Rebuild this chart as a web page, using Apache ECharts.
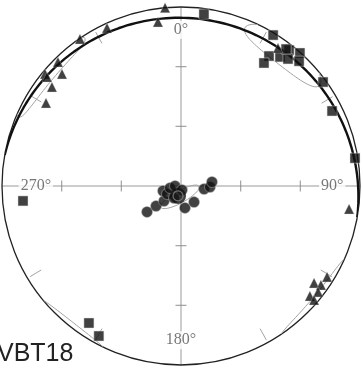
<!DOCTYPE html>
<html>
<head>
<meta charset="utf-8">
<script src="https://cdn.jsdelivr.net/npm/echarts@6/dist/echarts.min.js"></script>
<style>
html, body { margin: 0; padding: 0; background: #fff; }
#chart { width: 363px; height: 374px; }
</style>
</head>
<body>
<div id="chart"></div>
<script>
// Lower-hemisphere net, site VBT18. Lines are trend / plunge in degrees.
const squareTrend   = [7.6, 31.4, 34.1, 34.0, 37.5, 38.5, 40.1, 41.8, 43.4, 37.5, 53.8, 63.6, 80.9, 264.6, 213.9, 208.7];
const squarePlunge  = [2.8, 1.1, 11.1, 15.4, 8.2, 2.7, 6.5, 0.3, 3.6, 3.2, 1.5, 5.2, 1.4, 10.2, 7.0, 4.0];

const triangleTrend  = [354.9, 352, 334.9, 325.5, 315.2, 309.5, 309.1, 313.3, 307.5, 301.6, 35.1, 97.8, 126.1, 125.3, 121.9, 127.7, 130.5, 130.6];
const trianglePlunge = [0, 6.7, 2.3, 0.3, 2.2, 1.4, 3.2, 7.8, 8.2, 10.3, 5.2, 4.7, 7.2, 3.8, 3.5, 2.9, 4.8, 1.9];

const circleTrend  = [232.6, 231.3, 228.6, 254.5, 240.3, 259.7, 270, 166, 210.3, 169.7, 140.9, 97.4, 92, 82.6];
const circlePlunge = [68.5, 73.9, 78.6, 80.6, 81.9, 84.4, 87, 87.9, 83, 78.8, 79.6, 78.3, 75.4, 74.3];

const meanTrend  = [196.7];
const meanPlunge = [84.8];

// Best-fit plane (dip direction / dip)
const planeDipDirection = [10];
const planeDip = [5.5];

// Confidence ellipses: mean direction, semi-axes and orientation (degrees)
const ellipseTrend    = [38, 310, 185];
const ellipsePlunge   = [4.5, 1.5, 84.5];
const ellipseMajor    = [16, 17, 11];
const ellipseMinor    = [7, 4.5, 3];
const ellipseRotation = [0, 0, -34];

// Azimuth limits of the two girdle clusters
const limitAzimuths = [29, 59.5, 209, 239, 121, 151, 301, 331];

// Cross-hair graduations (distance from centre, degrees) and compass labels
const crossTicks = [30, 60];
const compassLabels = ['0°', '90°', '180°', '270°'];
const compassAzimuths = [0, 90, 180, 270];

const RAD = Math.PI / 180;

function toVec(t, p) {
  return [Math.cos(p * RAD) * Math.cos(t * RAD), Math.cos(p * RAD) * Math.sin(t * RAD), Math.sin(p * RAD)];
}
// unit vector (north, east, down) -> [distance from centre, azimuth] on the lower hemisphere
function toNet(v) {
  let n = v[0], e = v[1], d = v[2];
  if (d < 0) { n = -n; e = -e; d = -d; }
  const p = Math.asin(Math.min(1, d)) / RAD;
  let t = Math.atan2(e, n) / RAD;
  if (t < 0) t += 360;
  return [90 - p, t];
}
function points(trend, plunge) {
  return trend.map((t, i) => [90 - plunge[i], t]);
}
function greatCircle(dd, dip) {
  const s = dd - 90;
  const S = [Math.cos(s * RAD), Math.sin(s * RAD), 0];
  const D = toVec(dd, dip);
  const out = [];
  for (let k = 0; k <= 180; k += 1.5) {
    const c = Math.cos(k * RAD), sn = Math.sin(k * RAD);
    out.push(toNet([c * S[0] + sn * D[0], c * S[1] + sn * D[1], c * S[2] + sn * D[2]]));
  }
  return out;
}
// small ellipse around a mean direction; the part above the horizon is folded to the opposite side
function ellipse(t0, p0, a, b, rot) {
  const m = toVec(t0, p0);
  const e1 = [-Math.sin(t0 * RAD), Math.cos(t0 * RAD), 0];
  const e2 = [-Math.sin(p0 * RAD) * Math.cos(t0 * RAD), -Math.sin(p0 * RAD) * Math.sin(t0 * RAD), Math.cos(p0 * RAD)];
  const out = [];
  let prev = null;
  for (let k = 0; k <= 360; k += 1.5) {
    const u = a * Math.cos(k * RAD), w = b * Math.sin(k * RAD);
    const u2 = u * Math.cos(rot * RAD) - w * Math.sin(rot * RAD);
    const w2 = u * Math.sin(rot * RAD) + w * Math.cos(rot * RAD);
    const r = Math.hypot(u2, w2);
    const v = [0, 1, 2].map(i => Math.cos(r * RAD) * m[i] + Math.sin(r * RAD) * (u2 * e1[i] + w2 * e2[i]) / r);
    const down = v[2] >= 0;
    if (prev !== null && down !== prev) out.push(['-', '-']);
    prev = down;
    out.push(toNet(v));
  }
  return out;
}

const ellipseSeries = ellipseTrend.map((t, i) => ({
  type: 'line', coordinateSystem: 'polar', z: 3, showSymbol: false, silent: true,
  lineStyle: { color: '#a3a3a3', width: 1 },
  data: ellipse(t, ellipsePlunge[i], ellipseMajor[i], ellipseMinor[i], ellipseRotation[i])
}));
const limitSeries = limitAzimuths.map(az => ({
  type: 'line', coordinateSystem: 'polar', z: 3, showSymbol: false, silent: true,
  lineStyle: { color: '#a3a3a3', width: 1 }, data: [[82, az], [88.5, az]]
}));

const labelOffsets = [[0, -5], [0, 0], [0, 3], [6, 0]];
const labelData = compassAzimuths.map((az, i) => ({
  value: [76, az],
  label: { formatter: compassLabels[i], offset: labelOffsets[i] }
}));

const nsTicks = [], ewTicks = [];
crossTicks.forEach(r => {
  nsTicks.push([r, 0], [r, 180]);
  ewTicks.push([r, 90], [r, 270]);
});

const chart = echarts.init(document.getElementById('chart'), null, { renderer: 'canvas' });
chart.setOption({
  animation: false,
  backgroundColor: '#fff',
  polar: { center: [181, 186], radius: 179 },
  angleAxis: {
    type: 'value', min: 0, max: 360, interval: 90, startAngle: 90, clockwise: true,
    axisLine: { show: true, lineStyle: { color: '#222', width: 1.3 } },
    axisTick: { show: false }, axisLabel: { show: false },
    splitLine: { show: true, lineStyle: { color: '#9a9a9a', width: 1 } }
  },
  radiusAxis: {
    type: 'value', min: 0, max: 90,
    axisLine: { show: false }, axisTick: { show: false }, axisLabel: { show: false }, splitLine: { show: false }
  },
  graphic: [{
    type: 'text', left: -3, top: 342,
    style: { text: 'VBT18', font: '25px "Liberation Sans", Arial, sans-serif', fill: '#222' }
  }],
  series: [
    ...ellipseSeries,
    ...limitSeries,
    { type: 'line', coordinateSystem: 'polar', z: 4, showSymbol: false, silent: true,
      lineStyle: { color: '#111', width: 2.4 }, data: greatCircle(planeDipDirection[0], planeDip[0]) },
    { type: 'scatter', coordinateSystem: 'polar', z: 4, symbol: 'rect', symbolSize: [11, 1.2],
      itemStyle: { color: '#8a8a8a' }, data: nsTicks, silent: true },
    { type: 'scatter', coordinateSystem: 'polar', z: 4, symbol: 'rect', symbolSize: [1.2, 11],
      itemStyle: { color: '#8a8a8a' }, data: ewTicks, silent: true },
    { type: 'scatter', coordinateSystem: 'polar', z: 5, symbolSize: 1, silent: true,
      itemStyle: { color: 'rgba(0,0,0,0)' },
      label: { show: true, position: 'inside', color: '#555', fontSize: 16,
        fontFamily: '"Liberation Serif", "Times New Roman", serif',
        backgroundColor: '#fff', padding: [1, 2] },
      data: labelData },
    { type: 'scatter', coordinateSystem: 'polar', z: 6, symbol: 'rect', symbolSize: 10,
      itemStyle: { color: '#111', borderColor: '#ddd', borderWidth: 0.6 },
      data: points(squareTrend, squarePlunge) },
    { type: 'scatter', coordinateSystem: 'polar', z: 6, symbol: 'triangle', symbolSize: 10,
      itemStyle: { color: '#111', borderColor: '#ddd', borderWidth: 0.4 },
      data: points(triangleTrend, trianglePlunge) },
    { type: 'scatter', coordinateSystem: 'polar', z: 6, symbol: 'circle', symbolSize: 11,
      itemStyle: { color: '#111', borderColor: '#bbb', borderWidth: 0.6 },
      data: points(circleTrend, circlePlunge) },
    { type: 'scatter', coordinateSystem: 'polar', z: 7, symbol: 'circle', symbolSize: 16,
      itemStyle: { color: '#111' }, data: points(meanTrend, meanPlunge) },
    { type: 'scatter', coordinateSystem: 'polar', z: 8, symbol: 'circle', symbolSize: 10,
      itemStyle: { color: 'rgba(0,0,0,0)', borderColor: '#888', borderWidth: 1.2 },
      data: points(meanTrend, meanPlunge) }
  ]
});
</script>
</body>
</html>
